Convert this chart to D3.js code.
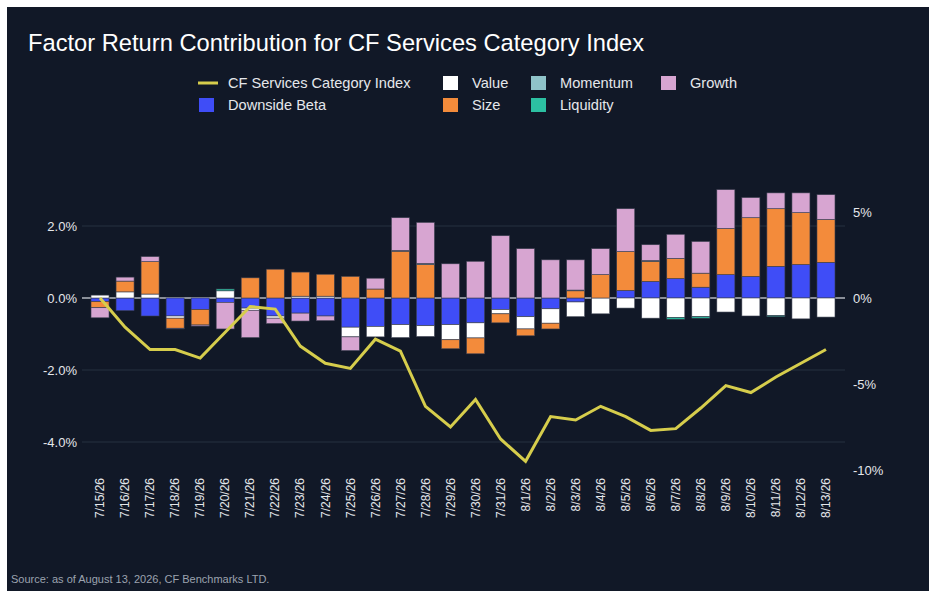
<!DOCTYPE html>
<html><head><meta charset="utf-8">
<script src="https://cdn.jsdelivr.net/npm/d3@7"></script>
<style>body{margin:0;background:#fff;font-family:"Liberation Sans",Arial,sans-serif}</style>
</head><body><svg id="c" width="936" height="598"></svg>
<script>
const dates=["7/15/26","7/16/26","7/17/26","7/18/26","7/19/26","7/20/26","7/21/26","7/22/26","7/23/26","7/24/26","7/25/26","7/26/26","7/27/26","7/28/26","7/29/26","7/30/26","7/31/26","8/1/26","8/2/26","8/3/26","8/4/26","8/5/26","8/6/26","8/7/26","8/8/26","8/9/26","8/10/26","8/11/26","8/12/26","8/13/26"];
const downsideBeta=[-0.1,-0.35,-0.5,-0.5,-0.32,-0.12,-0.28,-0.5,-0.42,-0.5,-0.81,-0.79,-0.74,-0.77,-0.74,-0.69,-0.32,-0.52,-0.3,-0.11,0,0.21,0.46,0.54,0.3,0.65,0.6,0.88,0.93,0.99];
const value=[0.08,0.17,0.11,-0.06,0,0.2,-0.06,-0.06,0.05,0.05,-0.27,-0.29,-0.36,-0.3,-0.42,-0.42,-0.12,-0.34,-0.4,-0.41,-0.44,-0.28,-0.56,-0.54,-0.52,-0.39,-0.5,-0.49,-0.58,-0.53];
const size=[-0.17,0.3,0.9,-0.28,-0.43,0,0.56,0.8,0.67,0.61,0.6,0.25,1.3,0.93,-0.25,-0.44,-0.25,-0.19,-0.16,0.2,0.65,1.08,0.56,0.56,0.39,1.28,1.63,1.6,1.44,1.19];
const momentum=[0,0,0,0,0,0,0,0,0,0,0,0,0.02,0.03,0,0,0,0,0,0.02,0,0,0.02,0,0,0,0,0,0,0];
const liquidity=[0,0,0,0,0,0.05,0,0,0,0,0,0,0,0,0,0,0,0,0,0,0,0,0,-0.05,-0.04,0,0,-0.03,0,0];
const growth=[-0.28,0.11,0.14,-0.02,-0.03,-0.74,-0.76,-0.15,-0.22,-0.13,-0.38,0.3,0.91,1.14,0.95,1.02,1.73,1.37,1.06,0.84,0.72,1.19,0.44,0.67,0.88,1.08,0.56,0.44,0.55,0.69];
const indexLine=[0,-1.7,-3.0,-3.0,-3.5,-2.0,-0.5,-0.65,-2.8,-3.8,-4.1,-2.4,-3.1,-6.3,-7.5,-5.9,-8.2,-9.5,-6.9,-7.1,-6.3,-6.9,-7.7,-7.6,-6.4,-5.1,-5.5,-4.6,-3.8,-3.0];
const leftTicks=[-4,-2,0,2], rightTicks=[-10,-5,0,5];

const keys=["Downside Beta","Value","Size","Momentum","Liquidity","Growth"];
const colors={"Downside Beta":"#3f4df7","Value":"#ffffff","Size":"#f38b3b","Momentum":"#8fc3c9","Liquidity":"#2cc0a2","Growth":"#d7a5d1"};
const arrs={"Downside Beta":downsideBeta,"Value":value,"Size":size,"Momentum":momentum,"Liquidity":liquidity,"Growth":growth};
const rows=dates.map((d,i)=>{const r={date:d};keys.forEach(k=>r[k]=arrs[k][i]);return r;});

const svg=d3.select("#c");
svg.append("rect").attr("x",7).attr("y",7).attr("width",922).attr("height",584).attr("fill","#111827");
svg.append("text").attr("x",28).attr("y",51).attr("fill","#fff").attr("font-size",23.7).text("Factor Return Contribution for CF Services Category Index");

const x=d3.scaleBand().domain(dates).range([84,842]).padding(0.28);
const yL=d3.scaleLinear().domain([-4.8,3.3]).range([470.8,179.2]);
const yR=d3.scaleLinear().domain([-10.05,6.9]).range([470.8,179.2]);

const g=svg.append("g");
leftTicks.forEach(t=>{
  g.append("line").attr("x1",82).attr("x2",845).attr("y1",yL(t)).attr("y2",yL(t)).attr("stroke",t===0?"#8a8f99":"#263040").attr("stroke-width",t===0?2:1);
});
const axL=svg.append("g").attr("transform","translate(80,0)").call(d3.axisLeft(yL).tickValues(leftTicks).tickSize(0).tickFormat(d=>d.toFixed(1)+"%"));
const axR=svg.append("g").attr("transform","translate(850,0)").call(d3.axisRight(yR).tickValues(rightTicks).tickSize(0).tickFormat(d=>d+"%"));
[axL,axR].forEach(a=>{a.select(".domain").remove();a.selectAll("text").attr("fill","#e5e7eb").attr("font-size",13).attr("font-family","Liberation Sans, Arial");});

const series=d3.stack().keys(keys).offset(d3.stackOffsetDiverging)(rows);
g.selectAll("g.s").data(series).join("g").attr("fill",d=>colors[d.key])
 .selectAll("rect").data(d=>d).join("rect")
 .attr("x",d=>x(d.data.date)).attr("width",x.bandwidth())
 .attr("y",d=>yL(Math.max(d[0],d[1]))).attr("height",d=>Math.abs(yL(d[0])-yL(d[1])))
 .attr("stroke","#3a3f4f").attr("stroke-width",0.6);

const line=d3.line().x((d,i)=>x(dates[i])+x.bandwidth()/2).y(d=>yR(d));
g.append("path").datum(indexLine).attr("d",line).attr("fill","none").attr("stroke","#d6cd4c").attr("stroke-width",3);

const ax=svg.append("g").attr("transform","translate(0,478)").call(d3.axisBottom(x).tickSize(0));
ax.select(".domain").remove();
ax.selectAll("text").attr("fill","#e5e7eb").attr("font-size",12).attr("font-family","Liberation Sans, Arial")
 .attr("transform","rotate(-90)").attr("text-anchor","end").attr("dx","0").attr("dy","0.35em").attr("x",0).attr("y",0);

const leg=[["CF Services Category Index",198,83,"line"],["Value",442,83],["Momentum",530,83],["Growth",660,83],["Downside Beta",198,105],["Size",442,105],["Liquidity",530,105]];
leg.forEach(([n,lx,ly,t])=>{
  if(t==="line") svg.append("line").attr("x1",lx).attr("x2",lx+20).attr("y1",ly).attr("y2",ly).attr("stroke","#d6cd4c").attr("stroke-width",3);
  else svg.append("rect").attr("x",lx+1).attr("y",ly-7).attr("width",15).attr("height",14).attr("fill",colors[n]);
  svg.append("text").attr("x",lx+30).attr("y",ly+5).attr("fill","#e5e7eb").attr("font-size",14.6).text(n);
});
svg.append("text").attr("x",11).attr("y",583).attr("fill","#9ca3af").attr("font-size",11).text("Source: as of August 13, 2026, CF Benchmarks LTD.");
</script></body></html>
